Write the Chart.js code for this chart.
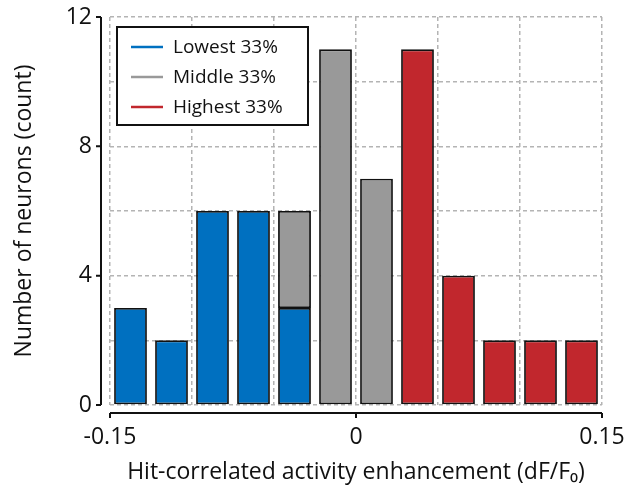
<!DOCTYPE html>
<html>
<head>
<meta charset="utf-8">
<script src="https://cdn.jsdelivr.net/npm/chart.js@4"></script>
<style>
  html, body { margin: 0; padding: 0; background: #fff; }
  #wrap { width: 629px; height: 492px; }
</style>
</head>
<body>
<div id="wrap"><canvas id="chart" width="629" height="492"></canvas></div>
<script>
// bin centres (dF/F0), bin width 0.025
var binCenters = [-0.1375, -0.1125, -0.0875, -0.0625, -0.0375, -0.0125, 0.0125, 0.0375, 0.0625, 0.0875, 0.1125, 0.1375];
var lowest  = [3, 2, 6, 6, 3, null, null, null, null, null, null, null];
var middle  = [null, null, null, null, 3, 11, 7, null, null, null, null, null];
var highest = [null, null, null, null, null, null, null, 11, 4, 2, 2, 2];
var seriesLabels = ["Lowest 33%", "Middle 33%", "Highest 33%"];
var xGridValues = [-0.15, -0.1, -0.05, 0, 0.05, 0.1, 0.15];
var xTickLabels = [-0.15, 0, 0.15];
var yTickLabels = [0, 4, 8, 12];

var COLORS = { low: "#0070c0", mid: "#999999", high: "#c1272d" };
var FONT = "'Open Sans', 'DejaVu Sans', sans-serif";

function pts(vals) {
  return vals.map(function (v, i) { return { x: binCenters[i], y: v }; });
}

function isLabelled(v, list) {
  for (var i = 0; i < list.length; i++) {
    if (Math.abs(v - list[i]) < 1e-9) return true;
  }
  return false;
}

function barSet(label, vals, color) {
  return {
    label: label,
    data: pts(vals),
    backgroundColor: color,
    borderColor: "#111",
    borderWidth: 1.8,
    borderSkipped: false,
    categoryPercentage: 0.8,
    barPercentage: 1.0,
  };
}

// offset axes (MATLAB style) and legend box
var axesAndLegend = {
  id: "axesAndLegend",
  afterDraw: function (chart) {
    var ctx = chart.ctx;
    var xs = chart.scales.x, ys = chart.scales.y;
    var area = chart.chartArea;
    ctx.save();
    ctx.strokeStyle = "#111";
    ctx.lineWidth = 2;
    // y spine
    var sx = area.left - 9;
    ctx.beginPath();
    ctx.moveTo(sx, ys.getPixelForValue(12));
    ctx.lineTo(sx, ys.getPixelForValue(0));
    yTickLabels.forEach(function (v) {
      var py = ys.getPixelForValue(v);
      ctx.moveTo(sx, py);
      ctx.lineTo(sx - 5, py);
    });
    ctx.stroke();
    // x spine
    var sy = area.bottom + 8;
    ctx.beginPath();
    ctx.moveTo(xs.getPixelForValue(-0.15), sy);
    ctx.lineTo(xs.getPixelForValue(0.15), sy);
    xTickLabels.forEach(function (v) {
      var px = xs.getPixelForValue(v);
      ctx.moveTo(px, sy);
      ctx.lineTo(px, sy + 5);
    });
    ctx.stroke();

    // legend
    var bx = 117, by = 27, bw = 191, bh = 98;
    ctx.fillStyle = "#fff";
    ctx.fillRect(bx, by, bw, bh);
    ctx.lineWidth = 2;
    ctx.strokeRect(bx, by, bw, bh);
    ctx.font = "19px " + FONT;
    ctx.textBaseline = "middle";
    ctx.textAlign = "left";
    chart.data.datasets.forEach(function (ds, i) {
      var ly = by + 20 + i * 30;
      ctx.strokeStyle = ds.backgroundColor;
      ctx.lineWidth = 2.5;
      ctx.beginPath();
      ctx.moveTo(bx + 14, ly);
      ctx.lineTo(bx + 46, ly);
      ctx.stroke();
      ctx.fillStyle = "#111";
      ctx.fillText(ds.label, bx + 56, ly + 1);
    });
    ctx.restore();
  }
};

new Chart(document.getElementById("chart"), {
  type: "bar",
  data: {
    datasets: [
      barSet(seriesLabels[0], lowest, COLORS.low),
      barSet(seriesLabels[1], middle, COLORS.mid),
      barSet(seriesLabels[2], highest, COLORS.high),
    ],
  },
  options: {
    responsive: false,
    animation: false,
    layout: { padding: { top: 17, right: 27, left: 0, bottom: 0 } },
    plugins: { legend: { display: false }, tooltip: { enabled: false } },
    scales: {
      x: {
        type: "linear",
        stacked: true,
        offset: false,
        min: -0.15,
        max: 0.15,
        afterFit: function (s) { s.height = 87; s.paddingLeft = 0; s.paddingRight = 0; },
        afterBuildTicks: function (s) {
          s.ticks = xGridValues.map(function (v) { return { value: v }; });
        },
        ticks: {
          autoSkip: false,
          maxRotation: 0,
          padding: 19,
          color: "#111",
          font: { family: FONT, size: 23 },
          callback: function (v) { return isLabelled(v, xTickLabels) ? String(v) : ""; },
        },
        grid: { offset: false, color: "#b4b4b4", lineWidth: 1.5, drawTicks: false },
        border: { display: false, dash: [4, 3] },
        title: {
          display: true,
          text: "Hit-correlated activity enhancement (dF/F\u2080)",
          color: "#111",
          font: { family: FONT, size: 23 },
          padding: { top: 0, bottom: 6 },
        },
      },
      y: {
        stacked: true,
        min: 0,
        max: 12,
        afterFit: function (s) { s.width = 110; s.paddingTop = 0; s.paddingBottom = 0; },
        ticks: {
          stepSize: 2,
          padding: 18,
          color: "#111",
          font: { family: FONT, size: 23 },
          callback: function (v) { return isLabelled(v, yTickLabels) ? String(v) : ""; },
        },
        grid: { color: "#b4b4b4", lineWidth: 1.5, drawTicks: false },
        border: { display: false, dash: [4, 3] },
        title: {
          display: true,
          text: "Number of neurons (count)",
          color: "#111",
          font: { family: FONT, size: 23 },
          padding: { top: 11, bottom: 0 },
        },
      },
    },
  },
  plugins: [axesAndLegend],
});
</script>
</body>
</html>
